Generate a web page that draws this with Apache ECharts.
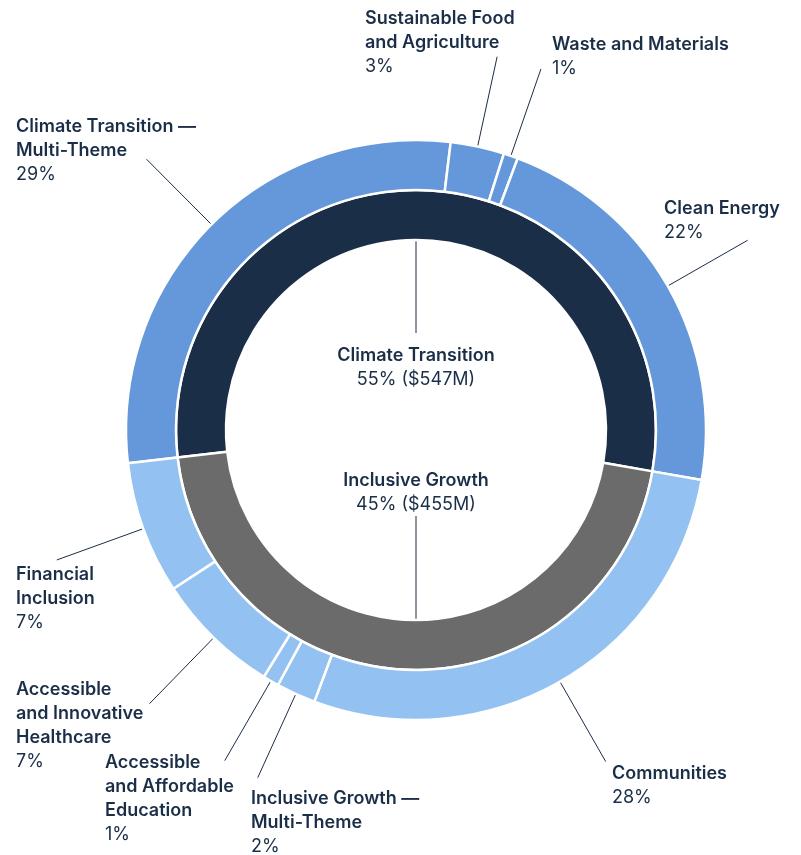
<!DOCTYPE html>
<html><head><meta charset="utf-8">
<script src="https://cdn.jsdelivr.net/npm/echarts@6/dist/echarts.min.js"></script>
<style>html,body{margin:0;padding:0;background:#fff}#c{width:801px;height:855px}</style>
</head><body><div id="c"></div>
<script>
// ---- data ----
const themes = ['Climate Transition', 'Inclusive Growth'];
const themeValues = [547, 455]; // $M
const subThemes = [
  'Climate Transition —\nMulti-Theme',
  'Sustainable Food\nand Agriculture',
  'Waste and Materials',
  'Clean Energy',
  'Communities',
  'Inclusive Growth —\nMulti-Theme',
  'Accessible\nand Affordable\nEducation',
  'Accessible\nand Innovative\nHealthcare',
  'Financial\nInclusion'
];
const subThemeValues = [288, 30, 8, 221, 280, 22, 9, 70, 74];
const subThemeParent = [0, 0, 0, 0, 1, 1, 1, 1, 1];

// ---- layout / style ----
const CX = 416, CY = 430;
const R_IN = [190, 240], R_OUT = [240, 290];
const START = 186.6;
const LINE_END_R = 382;
const themeColors = ['#1B2E48', '#6B6B6B'];
const subColors = ['#6598DA', '#93C2F2'];
const TEXT = '#1B2E48';
const outerLabelPos = [[16,115],[365,7],[552,33],[664,197],[612,762],[251,787],[105,751],[16,678],[16,563]];
const innerLabelTop = [344, 469];

const rich = {
  b: {fontFamily: 'Inter', fontWeight: 600, fontSize: 18, lineHeight: 24, color: TEXT},
  p: {fontFamily: 'Inter', fontWeight: 400, fontSize: 18, lineHeight: 24, color: TEXT}
};

const subTotal = subThemeValues.reduce((a, b) => a + b, 0);
function midAngle(i) {
  let cum = 0;
  for (let k = 0; k < i; k++) cum += subThemeValues[k];
  return (START - 360 * (cum + subThemeValues[i] / 2) / subTotal) * Math.PI / 180;
}

const chart = echarts.init(document.getElementById('c'), null, {renderer: 'canvas'});
chart.setOption({
  animation: false,
  backgroundColor: '#fff',
  series: [
    {
      type: 'pie',
      center: [CX, CY],
      radius: R_IN,
      startAngle: START,
      avoidLabelOverlap: false,
      itemStyle: {borderColor: '#fff', borderWidth: 2.5},
      emphasis: {disabled: true},
      data: themes.map((n, i) => ({name: n, value: themeValues[i], itemStyle: {color: themeColors[i]}})),
      label: {
        show: true, position: 'outside', align: 'center',
        formatter: p => '{b|' + p.name + '}\n{p|' + Math.round(p.percent) + '% ($' + p.value + 'M)}',
        rich: rich
      },
      labelLine: {show: true, lineStyle: {color: TEXT, width: 1}},
      labelLayout: function (p) {
        const i = p.dataIndex;
        const pts = i === 0
          ? [[CX, CY - R_IN[0]], [CX, CY - 97], [CX, CY - 97]]
          : [[CX, CY + R_IN[0]], [CX, CY + 86], [CX, CY + 86]];
        return {x: CX, y: innerLabelTop[i], align: 'center', verticalAlign: 'top', labelLinePoints: pts};
      }
    },
    {
      type: 'pie',
      center: [CX, CY],
      radius: R_OUT,
      startAngle: START,
      avoidLabelOverlap: false,
      itemStyle: {borderColor: '#fff', borderWidth: 2.5},
      emphasis: {disabled: true},
      data: subThemes.map((n, i) => ({name: n, value: subThemeValues[i], itemStyle: {color: subColors[subThemeParent[i]]}})),
      label: {
        show: true, position: 'outside', align: 'left',
        formatter: p => '{b|' + p.name + '}\n{p|' + Math.round(p.percent) + '%}',
        rich: rich
      },
      labelLine: {show: true, length: 92, length2: 0, lineStyle: {color: TEXT, width: 1}},
      labelLayout: function (p) {
        const i = p.dataIndex;
        const a = midAngle(i);
        const c = Math.cos(a), s = -Math.sin(a);
        const p1 = [CX + R_OUT[1] * c, CY + R_OUT[1] * s];
        const p2 = [CX + LINE_END_R * c, CY + LINE_END_R * s];
        return {x: outerLabelPos[i][0], y: outerLabelPos[i][1], align: 'left', verticalAlign: 'top',
                labelLinePoints: [p1, p2, p2]};
      }
    }
  ]
});
</script>
</body></html>
